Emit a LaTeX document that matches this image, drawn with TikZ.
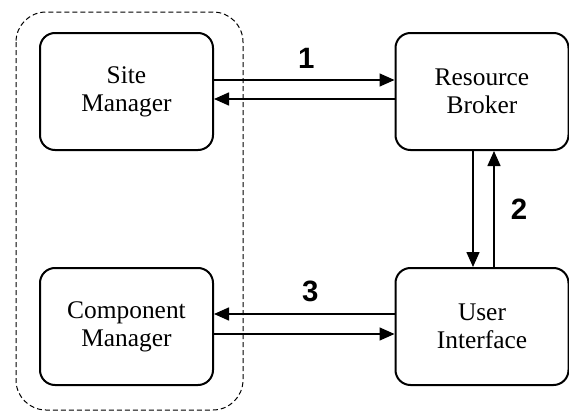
\documentclass[tikz,border=0pt]{standalone}
\usepackage{fontspec}
\setmainfont{Liberation Serif}
\newfontfamily\boxfont{Liberation Serif}
\newfontfamily\numfont{Liberation Sans}
\usetikzlibrary{arrows.meta, positioning}

\begin{document}
\begin{tikzpicture}[
    x=0.5pt, y=-0.5pt,
    every node/.style={font=\boxfont\fontsize{12.7}{14}\selectfont},
    unit/.style={draw, line width=1pt, rounded corners=7.5pt, minimum width=86.5pt, minimum height=58.5pt, align=center, inner sep=0pt},
    msg/.style={line width=0.75pt, -{Triangle[length=7.5pt,width=6.5pt]}},
    num/.style={font=\numfont\bfseries\fontsize{14.7}{16}\selectfont, inner sep=0pt}
]
    \useasboundingbox (0,0) rectangle (569,412);

    % Site side
    \draw[dash pattern=on 2.5pt off 1.5pt, line width=0.5pt, rounded corners=15pt] (16,12) rectangle (243,410);

    % Components
    \node[unit] (site) at (126.5,91.5) {Site\\Manager};
    \node[unit] (broker) at (482,91.5) {Resource\\Broker};
    \node[unit] (comp) at (126.5,326.5) {Component\\Manager};
    \node[unit] (ui) at (482,326.5) {User\\Interface};

    % Messages
    \draw[msg] ([yshift=5.75pt]site.east) -- ([yshift=5.75pt]broker.west) node[num, midway, above=5.5pt, xshift=1pt] {1};
    \draw[msg] ([yshift=-3.75pt]broker.west) -- ([yshift=-3.75pt]site.east);

    \draw[msg] ([xshift=-4.5pt]broker.south) -- ([xshift=-4.5pt]ui.north);
    \draw[msg] ([xshift=6pt]ui.north) -- ([xshift=6pt]broker.south) node[num, midway, right=8pt] {2};

    \draw[msg] ([yshift=6.25pt]ui.west) -- ([yshift=6.25pt]comp.east) node[num, midway, above=5.5pt, xshift=3pt] {3};
    \draw[msg] ([yshift=-3.75pt]comp.east) -- ([yshift=-3.75pt]ui.west);

\end{tikzpicture}
\end{document}
